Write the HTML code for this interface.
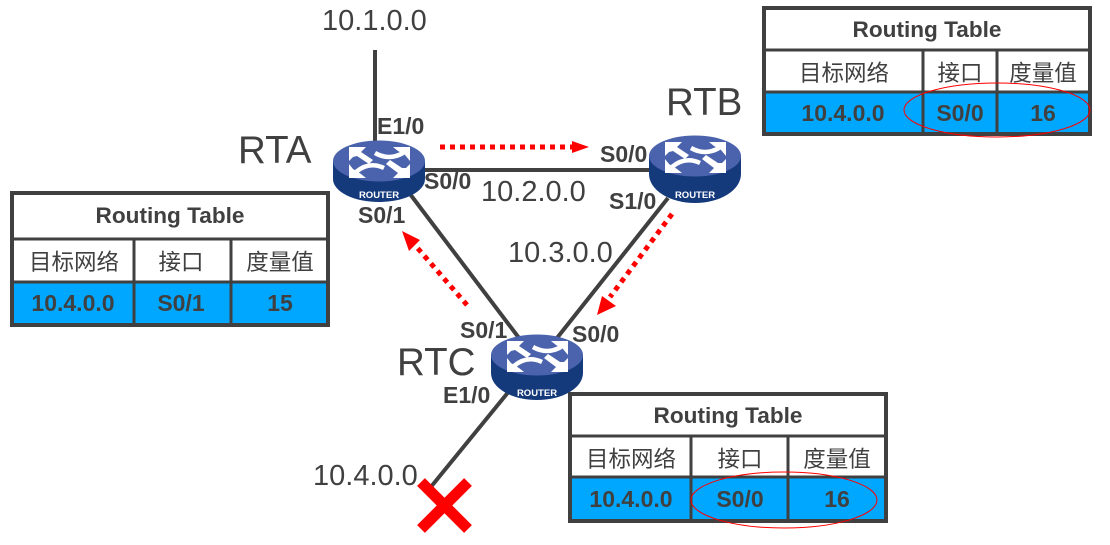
<!DOCTYPE html>
<html>
<head>
<meta charset="utf-8">
<style>
html,body{margin:0;padding:0;background:#fff;width:1110px;height:545px;overflow:hidden}
svg{display:block}
text{font-family:"Liberation Sans","Noto Sans CJK SC",sans-serif;fill:#404040}
.b{font-weight:bold;font-size:23px}
.big{font-size:29px}
.name{font-size:38.5px}
.h{font-weight:bold;font-size:22.6px;text-anchor:middle}
.c{font-size:22.5px;text-anchor:middle}
.d{font-weight:bold;font-size:23px;text-anchor:middle}
.r{font-weight:bold;font-size:9.5px;fill:#fff;text-anchor:middle}
</style>
</head>
<body>
<svg width="1110" height="545" viewBox="0 0 1110 545" xmlns="http://www.w3.org/2000/svg">
<rect width="1110" height="545" fill="#fff"/>

<!-- links -->
<g stroke="#404040" stroke-width="4" fill="none">
<line x1="375" y1="50" x2="375" y2="150"/>
<line x1="420" y1="170" x2="655" y2="170"/>
<line x1="410" y1="194" x2="519" y2="338"/>
<line x1="668" y1="198" x2="557" y2="338"/>
<line x1="510" y1="390" x2="430" y2="488"/>
</g>

<!-- routers -->
<g transform="translate(379,161)">
<path d="M-46,0V18A46,23 0 0 0 46,18V0Z" fill="#153a7c"/>
<ellipse cx="0" cy="0" rx="46" ry="20.5" fill="#4a63ac"/>
<g fill="none" stroke="#fff" stroke-width="4.5">
<path d="M24,-8Q10,0 -4,-8"/><path d="M-23,11Q-10,0 5,7"/>
</g>
<g fill="#fff">
<path d="M-30,-14H-13L-18,-9L-6,-1L-10,3L-22,-5L-26,-4L-30,0Z"/>
<path d="M31,-14H14L19,-10L26,-6L31,0Z"/>
<path d="M-30,17H-13L-18,13L-26,8L-30,3Z"/>
<path d="M31,17H14L19,12L7,3L11,-1L23,7L27,7L31,3Z"/>
</g>
<text class="r" x="0" y="37">ROUTER</text>
</g>
<g transform="translate(695,156)">
<path d="M-46,0V18A46,29 0 0 0 46,18V0Z" fill="#153a7c"/>
<ellipse cx="0" cy="0" rx="46" ry="20.5" fill="#4a63ac"/>
<g fill="none" stroke="#fff" stroke-width="4.5">
<path d="M24,-8Q10,0 -4,-8"/><path d="M-23,11Q-10,0 5,7"/>
</g>
<g fill="#fff">
<path d="M-30,-14H-13L-18,-9L-6,-1L-10,3L-22,-5L-26,-4L-30,0Z"/>
<path d="M31,-14H14L19,-10L26,-6L31,0Z"/>
<path d="M-30,17H-13L-18,13L-26,8L-30,3Z"/>
<path d="M31,17H14L19,12L7,3L11,-1L23,7L27,7L31,3Z"/>
</g>
<text class="r" x="0" y="42">ROUTER</text>
</g>
<g transform="translate(537,355)">
<path d="M-46,0V18A46,27 0 0 0 46,18V0Z" fill="#153a7c"/>
<ellipse cx="0" cy="0" rx="46" ry="20.5" fill="#4a63ac"/>
<g fill="none" stroke="#fff" stroke-width="4.5">
<path d="M24,-8Q10,0 -4,-8"/><path d="M-23,11Q-10,0 5,7"/>
</g>
<g fill="#fff">
<path d="M-30,-14H-13L-18,-9L-6,-1L-10,3L-22,-5L-26,-4L-30,0Z"/>
<path d="M31,-14H14L19,-10L26,-6L31,0Z"/>
<path d="M-30,17H-13L-18,13L-26,8L-30,3Z"/>
<path d="M31,17H14L19,12L7,3L11,-1L23,7L27,7L31,3Z"/>
</g>
<text class="r" x="0" y="41">ROUTER</text>
</g>

<!-- dotted arrows -->
<g stroke="#ff0000" stroke-width="5" stroke-dasharray="5 5" fill="none">
<line x1="440" y1="147" x2="572" y2="147"/>
<line x1="672" y1="214" x2="610" y2="297"/>
<line x1="467" y1="305" x2="414" y2="244"/>
</g>
<g fill="#ff0000">
<path d="M589,147L572,141V153Z"/>
<path d="M597,315L602,296L616,306Z"/>
<path d="M402,231L420,240L409,251Z"/>
</g>

<!-- X -->
<g stroke="#ff0000" stroke-width="11" fill="none">
<line x1="421" y1="482" x2="468" y2="529"/>
<line x1="468" y1="482" x2="421" y2="529"/>
</g>

<!-- labels -->
<text class="big" x="322" y="30">10.1.0.0</text>
<text class="big" x="481" y="201">10.2.0.0</text>
<text class="big" x="508" y="262">10.3.0.0</text>
<text class="big" x="313" y="485">10.4.0.0</text>
<text class="name" x="238" y="163">RTA</text>
<text class="name" x="666" y="115">RTB</text>
<text class="name" x="397" y="375">RTC</text>
<text class="b" x="377" y="134">E1/0</text>
<text class="b" x="424" y="189">S0/0</text>
<text class="b" x="358" y="223">S0/1</text>
<text class="b" x="600" y="162">S0/0</text>
<text class="b" x="609" y="209">S1/0</text>
<text class="b" x="460" y="338">S0/1</text>
<text class="b" x="572" y="342">S0/0</text>
<text class="b" x="443" y="403">E1/0</text>

<!-- table RTB -->
<g>
<rect x="764" y="8" width="326" height="126" fill="#fff" stroke="#404040" stroke-width="4"/>
<rect x="766" y="92" width="322" height="40" fill="#00a7ff"/>
<g stroke="#404040" stroke-width="3">
<line x1="766" y1="50" x2="1088" y2="50"/>
<line x1="766" y1="92" x2="1088" y2="92"/>
<line x1="923" y1="50" x2="923" y2="132"/>
<line x1="997" y1="50" x2="997" y2="132"/>
</g>
<text class="h" x="927" y="37">Routing Table</text>
<text class="c" x="844" y="81">目标网络</text>
<text class="c" x="960" y="81">接口</text>
<text class="c" x="1043" y="81">度量值</text>
<text class="d" x="843" y="121">10.4.0.0</text>
<text class="d" x="960" y="121">S0/0</text>
<text class="d" x="1043" y="121">16</text>
<ellipse cx="997" cy="110" rx="93" ry="27" fill="none" stroke="#ff0000" stroke-width="1"/>
</g>

<!-- table RTA -->
<g>
<rect x="12" y="193" width="316" height="132" fill="#fff" stroke="#404040" stroke-width="4"/>
<rect x="14" y="282" width="312" height="41" fill="#00a7ff"/>
<g stroke="#404040" stroke-width="3">
<line x1="14" y1="239" x2="326" y2="239"/>
<line x1="14" y1="282" x2="326" y2="282"/>
<line x1="134" y1="239" x2="134" y2="323"/>
<line x1="231" y1="239" x2="231" y2="323"/>
</g>
<text class="h" x="170" y="223">Routing Table</text>
<text class="c" x="74" y="270">目标网络</text>
<text class="c" x="181" y="270">接口</text>
<text class="c" x="280" y="270">度量值</text>
<text class="d" x="73" y="311">10.4.0.0</text>
<text class="d" x="181" y="311">S0/1</text>
<text class="d" x="280" y="311">15</text>
</g>

<!-- table RTC -->
<g>
<rect x="570" y="394" width="316" height="127" fill="#fff" stroke="#404040" stroke-width="4"/>
<rect x="572" y="477" width="312" height="42" fill="#00a7ff"/>
<g stroke="#404040" stroke-width="3">
<line x1="572" y1="436" x2="884" y2="436"/>
<line x1="572" y1="477" x2="884" y2="477"/>
<line x1="691" y1="436" x2="691" y2="519"/>
<line x1="788" y1="436" x2="788" y2="519"/>
</g>
<text class="h" x="728" y="423">Routing Table</text>
<text class="c" x="631" y="467">目标网络</text>
<text class="c" x="740" y="467">接口</text>
<text class="c" x="837" y="467">度量值</text>
<text class="d" x="631" y="507">10.4.0.0</text>
<text class="d" x="740" y="507">S0/0</text>
<text class="d" x="837" y="507">16</text>
<ellipse cx="784" cy="500" rx="93" ry="28" fill="none" stroke="#ff0000" stroke-width="1"/>
</g>
</svg>
</body>
</html>
